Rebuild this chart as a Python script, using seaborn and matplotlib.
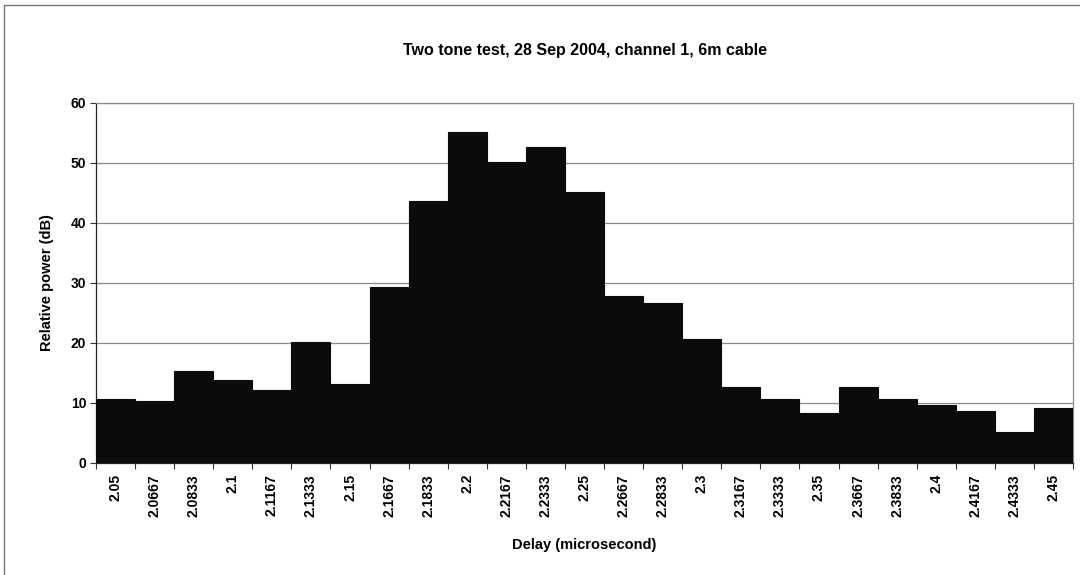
import matplotlib
matplotlib.use("Agg")
import matplotlib.pyplot as plt
import seaborn as sns
import pandas as pd
import numpy as np
from matplotlib.patches import Rectangle

delays = ["2.05", "2.0667", "2.0833", "2.1", "2.1167", "2.1333", "2.15", "2.1667",
          "2.1833", "2.2", "2.2167", "2.2333", "2.25", "2.2667", "2.2833", "2.3",
          "2.3167", "2.3333", "2.35", "2.3667", "2.3833", "2.4", "2.4167", "2.4333", "2.45"]
power_db = [10.6, 10.4, 15.3, 13.9, 12.2, 20.1, 13.2, 29.4, 43.6, 55.1, 50.2, 52.6,
            45.2, 27.8, 26.6, 20.6, 12.6, 10.6, 8.4, 12.6, 10.6, 9.7, 8.6, 5.1, 9.1]
y_ticks = [0, 10, 20, 30, 40, 50, 60]

sns.set_theme(style="white")
plt.rcParams['font.family'] = ['Liberation Sans', 'DejaVu Sans']
plt.rcParams['text.color'] = 'black'
plt.rcParams['axes.labelcolor'] = 'black'
plt.rcParams['xtick.color'] = 'black'
plt.rcParams['ytick.color'] = 'black'

df = pd.DataFrame({"delay": delays, "power": power_db})

fig = plt.figure(figsize=(10.8, 5.75), dpi=100)
ax = fig.add_axes([96/1080, 1 - 463/575, (1073-96)/1080, (463-103)/575])

sns.barplot(data=df, x="delay", y="power", order=delays, color="#0b0b0b",
            width=1.0, saturation=1, edgecolor="#0b0b0b", linewidth=0.8, ax=ax, zorder=3)

ax.set_xlim(-0.5, len(delays) - 0.5)
ax.set_ylim(0, 60)
ax.set_yticks(y_ticks)
ax.set_yticklabels([str(v) for v in y_ticks], fontsize=10, fontweight="bold")
ax.yaxis.grid(True, color="#8a8a8a", linewidth=0.9, zorder=0)
ax.set_axisbelow(True)

ax.set_xticks(range(len(delays)))
ax.set_xticklabels(delays, rotation=90, fontsize=10, fontweight="bold")
ax.set_xticks(np.arange(-0.5, len(delays), 1.0), minor=True)
ax.tick_params(axis="x", which="major", length=0, pad=8)
ax.tick_params(axis="x", which="minor", length=4, width=0.8, color="#333333", direction="out", bottom=True)
ax.tick_params(axis="y", which="major", length=4, width=0.8, color="#333333", direction="out", left=True, pad=3)

for s in ["left", "bottom"]:
    ax.spines[s].set_color("#222222")
    ax.spines[s].set_linewidth(0.9)
for s in ["top", "right"]:
    ax.spines[s].set_color("#8a8a8a")
    ax.spines[s].set_linewidth(0.9)

ax.set_xlabel("Delay (microsecond)", fontsize=10.5, fontweight="bold", labelpad=15)
ax.set_ylabel("Relative power (dB)", fontsize=10.5, fontweight="bold", labelpad=12)

fig.text(585/1080, 1 - 50/575, "Two tone test, 28 Sep 2004, channel 1, 6m cable",
         ha="center", va="center", fontsize=11.5, fontweight="bold")

fig.patches.append(Rectangle((4/1080, -0.01), 1.1, 1 - 5/575 + 0.01, transform=fig.transFigure,
                             fill=False, edgecolor="#777777", linewidth=1.0))

fig.savefig("out.png", dpi=100)
